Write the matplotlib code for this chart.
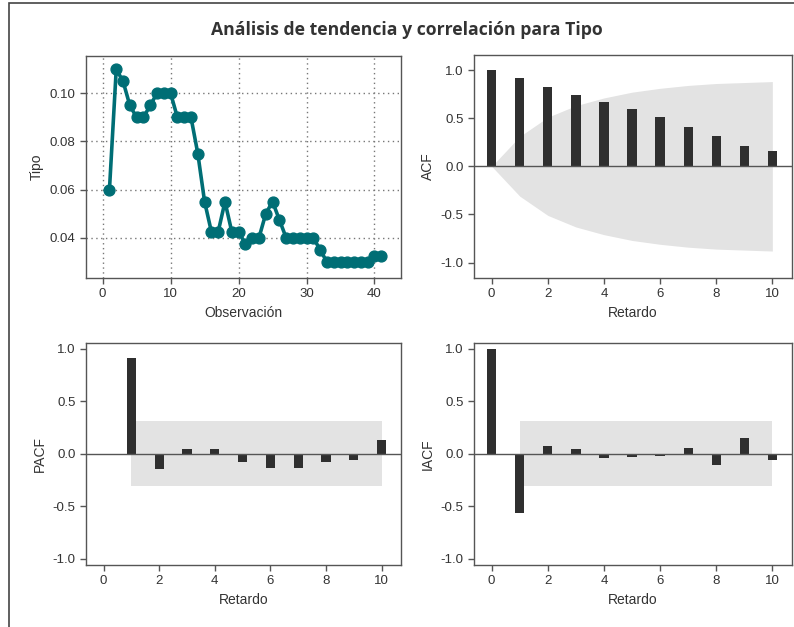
import matplotlib
matplotlib.use("Agg")
import matplotlib.pyplot as plt
from matplotlib.patches import Rectangle
from matplotlib.ticker import FormatStrFormatter

# serie observada
obs = list(range(1, 42))
tipo = [0.06, 0.11, 0.105, 0.095, 0.09, 0.09, 0.095, 0.10, 0.10, 0.10,
        0.09, 0.09, 0.09, 0.075, 0.055, 0.0425, 0.0425, 0.055, 0.0425, 0.0425,
        0.0375, 0.04, 0.04, 0.05, 0.055, 0.0475, 0.04, 0.04, 0.04, 0.04,
        0.04, 0.035, 0.03, 0.03, 0.03, 0.03, 0.03, 0.03, 0.03, 0.0325, 0.0325]

lags = list(range(0, 11))
acf = [1.0, 0.92, 0.82, 0.74, 0.67, 0.60, 0.51, 0.41, 0.31, 0.21, 0.156]
acf_band = [0.0, 0.31, 0.51, 0.63, 0.71, 0.77, 0.81, 0.84, 0.86, 0.87, 0.88]

pacf_lags = list(range(1, 11))
pacf = [0.91, -0.14, 0.05, 0.05, -0.076, -0.134, -0.134, -0.076, -0.054, 0.134]
iacf = [1.0, -0.565, 0.074, 0.042, -0.039, -0.029, -0.016, 0.051, -0.106, 0.154, -0.061]
band = 0.31

W, H = 794, 627
TXT = "#333333"
SPINE = "#555555"
BAR = "#2f2f2f"
GRAY = "#e3e3e3"
TEAL = "#006e75"

plt.rcParams['font.family'] = ['Liberation Sans', 'DejaVu Sans']
plt.rcParams['font.size'] = 9.5

fig = plt.figure(figsize=(W / 100, H / 100), dpi=100)
fig.patches.append(Rectangle((9 / W, -0.1), 1.2, 1 - 3 / H + 0.1, transform=fig.transFigure,
                             fill=False, edgecolor="#444444", linewidth=1.2))


def add_ax(x0, y0, x1, y1):
    return fig.add_axes([x0 / W, 1 - y1 / H, (x1 - x0) / W, (y1 - y0) / H])


def style(ax):
    for s in ax.spines.values():
        s.set_color(SPINE)
        s.set_linewidth(1.0)
    ax.tick_params(colors=SPINE, labelcolor=TXT, length=4, width=1, labelsize=9.5)


fig.text(407 / W, 1 - 30 / H, "Análisis de tendencia y correlación para Tipo",
         ha="center", va="center", fontsize=12.7, fontweight="bold", color=TXT,
         family=['Open Sans', 'DejaVu Sans'])

# serie
ax1 = add_ax(86, 56, 401, 278)
ax1.plot(obs, tipo, color=TEAL, lw=2.6, marker="o", ms=7.8, zorder=3)
ax1.set_xlim(-2.45, 43.9)
ax1.set_ylim(0.0233, 0.1155)
ax1.set_xticks([0, 10, 20, 30, 40])
ax1.set_yticks([0.04, 0.06, 0.08, 0.10])
ax1.yaxis.set_major_formatter(FormatStrFormatter('%.2f'))
ax1.grid(True, linestyle=(0, (1, 2.5)), color="#777777", linewidth=1)
ax1.set_xlabel("Observación", color=TXT, fontsize=10)
ax1.set_ylabel("Tipo", color=TXT, fontsize=10)
style(ax1)


def corr_ax(ax, x, y, lbl):
    ax.bar(x, y, width=0.33, color=BAR, zorder=3)
    ax.axhline(0, color=SPINE, lw=1, zorder=4)
    ax.set_xlim(-0.63, 10.7)
    ax.set_xticks([0, 2, 4, 6, 8, 10])
    ax.set_yticks([-1.0, -0.5, 0.0, 0.5, 1.0])
    ax.yaxis.set_major_formatter(FormatStrFormatter('%.1f'))
    ax.set_xlabel("Retardo", color=TXT, fontsize=10)
    ax.set_ylabel(lbl, color=TXT, fontsize=10)
    style(ax)


# ACF
ax2 = add_ax(474, 55, 792, 278)
ax2.fill_between(lags, [-b for b in acf_band], acf_band, color=GRAY, lw=0, zorder=1)
corr_ax(ax2, lags, acf, "ACF")
ax2.set_ylim(-1.16, 1.156)

# PACF
ax3 = add_ax(86, 343, 401, 565)
ax3.fill_between([1, 10], [-band, -band], [band, band], color=GRAY, lw=0, zorder=1)
corr_ax(ax3, pacf_lags, pacf, "PACF")
ax3.set_ylim(-1.06, 1.057)

# IACF
ax4 = add_ax(474, 343, 792, 565)
ax4.fill_between([1, 10], [-band, -band], [band, band], color=GRAY, lw=0, zorder=1)
corr_ax(ax4, lags, iacf, "IACF")
ax4.set_ylim(-1.06, 1.057)

fig.savefig("out.png", dpi=100)
